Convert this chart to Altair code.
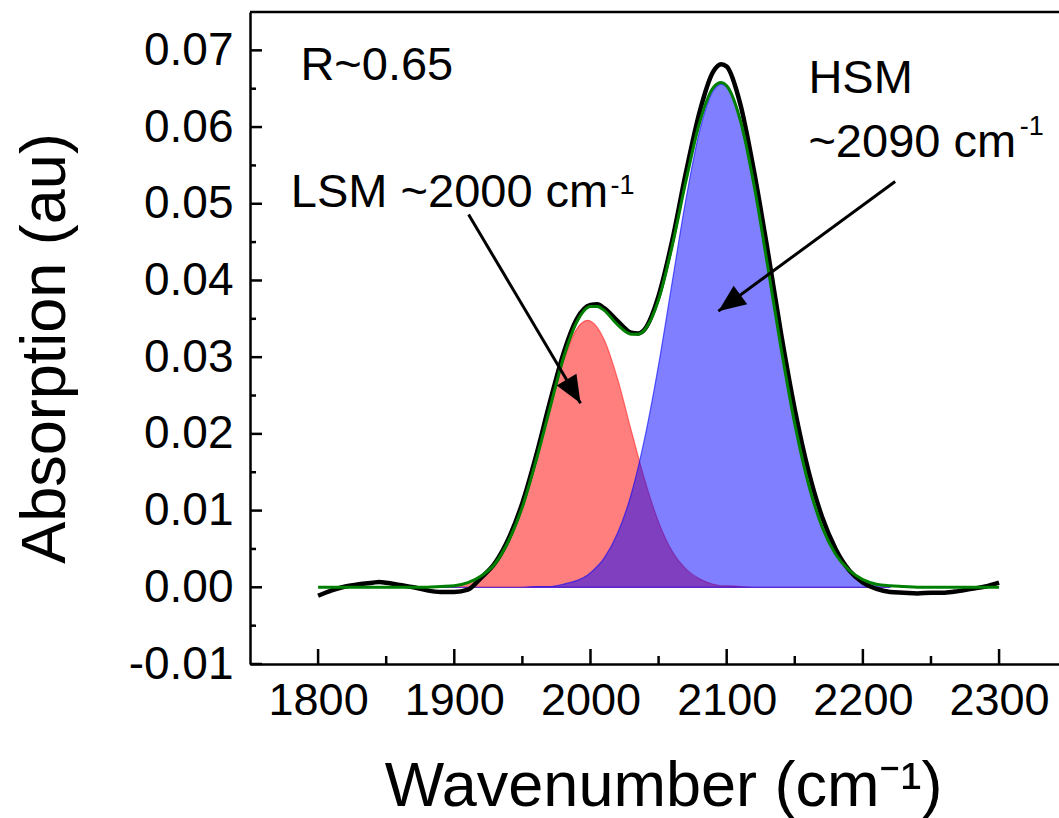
import altair as alt
import pandas as pd

# ---- data ----
# Gaussian components (LSM red, HSM blue)
comp_wn = [1890, 1900, 1910, 1920, 1930, 1940, 1950, 1960, 1970, 1980, 1990, 1998, 2000,
           2010, 2020, 2030, 2040, 2050, 2060, 2070, 2080, 2090, 2096, 2100, 2110, 2120,
           2130, 2140, 2150, 2160, 2170, 2180, 2190, 2200, 2210, 2220]
lsm_val = [0.0001, 0.0002, 0.0006, 0.0015, 0.0031, 0.0061, 0.0105, 0.0164, 0.0231, 0.0294,
           0.0337, 0.0348, 0.0347, 0.0323, 0.0271, 0.0204, 0.0139, 0.0085, 0.0047, 0.0024,
           0.0011, 0.0004, 0.0002, 0.0002, 0.0001, 0.0, 0.0, 0.0, 0.0, 0.0, 0.0, 0.0, 0.0,
           0.0, 0.0, 0.0]
hsm_val = [0.0, 0.0, 0.0, 0.0, 0.0, 0.0, 0.0, 0.0001, 0.0001, 0.0004, 0.0009, 0.0016, 0.0019,
           0.0038, 0.0071, 0.0122, 0.0196, 0.0290, 0.0398, 0.0505, 0.0594, 0.0647, 0.0656,
           0.0652, 0.0608, 0.0525, 0.0420, 0.0311, 0.0213, 0.0135, 0.0079, 0.0043, 0.0022,
           0.0010, 0.0004, 0.0002]

# cumulative fit (green)
fit_wn = [1800, 1810, 1820, 1830, 1840, 1850, 1860, 1870, 1880, 1890, 1900, 1910, 1920, 1930,
          1940, 1950, 1960, 1970, 1980, 1990, 2000, 2005, 2010, 2020, 2030, 2035, 2040, 2050,
          2060, 2070, 2080, 2090, 2096, 2100, 2110, 2120, 2130, 2140, 2150, 2160, 2170, 2180,
          2190, 2200, 2210, 2220, 2230, 2240, 2250, 2260, 2270, 2280, 2290, 2300]
fit_val = [0.0, 0.0, 0.0, 0.0, 0.0, 0.0, 0.0, 0.0, 0.0, 0.0001, 0.0002, 0.0006, 0.0015, 0.0031,
           0.0061, 0.0105, 0.0165, 0.0232, 0.0298, 0.0346, 0.0366, 0.0366, 0.0361, 0.0342,
           0.0330, 0.0330, 0.0336, 0.0375, 0.0445, 0.0529, 0.0605, 0.0651, 0.0658, 0.0654,
           0.0609, 0.0525, 0.0420, 0.0311, 0.0213, 0.0135, 0.0079, 0.0043, 0.0022, 0.0010,
           0.0004, 0.0002, 0.0001, 0.0, 0.0, 0.0, 0.0, 0.0, 0.0, 0.0]

# measured spectrum (black)
meas_wn = [1800, 1810, 1820, 1830, 1840, 1845, 1850, 1860, 1870, 1880, 1890, 1900, 1910, 1920,
           1930, 1940, 1950, 1960, 1970, 1980, 1990, 2000, 2005, 2010, 2020, 2030, 2035, 2040,
           2050, 2060, 2070, 2080, 2090, 2096, 2100, 2110, 2120, 2130, 2140, 2150, 2160, 2170,
           2180, 2190, 2200, 2210, 2220, 2230, 2240, 2250, 2260, 2270, 2280, 2290, 2300]
meas_val = [-0.0011, -0.0004, 0.0001, 0.0004, 0.0006, 0.0007, 0.0006, 0.0003, 0.0000, -0.0004,
            -0.0006, -0.0006, -0.0003, 0.0013, 0.0032, 0.0064, 0.0110, 0.0171, 0.0240, 0.0304,
            0.0350, 0.0368, 0.0369, 0.0364, 0.0347, 0.0332, 0.0331, 0.0337, 0.0380, 0.0452,
            0.0540, 0.0619, 0.0672, 0.0682, 0.0679, 0.0630, 0.0543, 0.0440, 0.0330, 0.0232,
            0.0152, 0.0092, 0.0050, 0.0022, 0.0006, -0.0002, -0.0006, -0.0007, -0.0008,
            -0.0007, -0.0007, -0.0005, -0.0002, 0.0001, 0.0006]

# axis ticks
x_major = [1800, 1900, 2000, 2100, 2200, 2300]
x_minor = [1850, 1950, 2050, 2150, 2250]
y_major = [-0.01, 0.0, 0.01, 0.02, 0.03, 0.04, 0.05, 0.06, 0.07]
y_minor = [-0.005, 0.005, 0.015, 0.025, 0.035, 0.045, 0.055, 0.065]

# annotations
main_text = ["R~0.65", "LSM ~2000 cm", "HSM", "~2090 cm"]
main_text_wn = [1787, 1780, 2160, 2160]
main_text_val = [0.0661, 0.0496, 0.0645, 0.0561]
sup_text = ["-1", "-1"]
sup_text_wn = [2014.7, 2315.2]
sup_text_val = [0.0513, 0.0590]

arrow_start_wn = [1910.5, 2223.7]
arrow_start_val = [0.0486, 0.0529]
arrow_tip_wn = [1992.7, 2093.9]
arrow_tip_val = [0.0240, 0.0360]
arrow_angle = [149.3, 233.7]

# ---- chart ----
W, H = 809, 652
X_DOMAIN = [1750, 2344]
Y_DOMAIN = [-0.01, 0.075]
FONT = "Liberation Sans"

xaxis = alt.Axis(values=x_major, format="d", ticks=False, tickSize=0, grid=False,
                 labelFont=FONT, labelFontSize=45, labelColor="black",
                 labelPadding=50, labelBaseline="alphabetic",
                 domainColor="black", domainWidth=2.5,
                 title="Wavenumber (cm⁻¹)", titleFont=FONT, titleFontSize=63,
                 titleFontWeight="normal", titleColor="black",
                 titleX=413, titleY=141, titleAlign="center", titleBaseline="alphabetic")
yaxis = alt.Axis(values=y_major, ticks=False, tickSize=0, grid=False,
                 labelExpr="datum.value < 0 ? '-' + format(-datum.value, '.2f') : format(datum.value, '.2f')",
                 labelFont=FONT, labelFontSize=46, labelColor="black",
                 labelPadding=17, labelBaseline="middle",
                 domainColor="black", domainWidth=2.5,
                 title="Absorption (au)", titleFont=FONT, titleFontSize=63,
                 titleFontWeight="normal", titleColor="black",
                 titleX=-186, titleY=336, titleAngle=270, titleAlign="center",
                 titleBaseline="alphabetic")

def xenc(field="wn"):
    return alt.X(f"{field}:Q", scale=alt.Scale(domain=X_DOMAIN, nice=False, zero=False), axis=xaxis)

def yenc(field="val"):
    return alt.Y(f"{field}:Q", scale=alt.Scale(domain=Y_DOMAIN, nice=False, zero=False), axis=yaxis)

comp_df = pd.DataFrame({"wn": comp_wn, "lsm": lsm_val, "hsm": hsm_val})
fit_df = pd.DataFrame({"wn": fit_wn, "val": fit_val})
meas_df = pd.DataFrame({"wn": meas_wn, "val": meas_val})

red = alt.Chart(comp_df).mark_area(
    interpolate="monotone", fill="#ff0000", fillOpacity=0.5,
    stroke="#ff0000", strokeOpacity=0.5, strokeWidth=1.2
).encode(x=xenc(), y=yenc("lsm"))

blue = alt.Chart(comp_df).mark_area(
    interpolate="monotone", fill="#0000ff", fillOpacity=0.5,
    stroke="#0000ff", strokeOpacity=0.6, strokeWidth=1.2
).encode(x=xenc(), y=yenc("hsm"))

black = alt.Chart(meas_df).mark_line(
    interpolate="monotone", color="black", strokeWidth=4.5
).encode(x=xenc(), y=yenc())

green = alt.Chart(fit_df).mark_line(
    interpolate="monotone", color="#008000", strokeWidth=3
).encode(x=xenc(), y=yenc())

xmaj_df = pd.DataFrame({"wn": x_major})
xmin_df = pd.DataFrame({"wn": x_minor})
ymaj_df = pd.DataFrame({"val": y_major})
ymin_df = pd.DataFrame({"val": y_minor})

xmaj_ticks = alt.Chart(xmaj_df).mark_rule(color="black", strokeWidth=2.5).encode(
    x=xenc(), y=alt.value(H), y2=alt.value(H - 15))
xmin_ticks = alt.Chart(xmin_df).mark_rule(color="black", strokeWidth=2.5).encode(
    x=xenc(), y=alt.value(H), y2=alt.value(H - 8))
ymaj_ticks = alt.Chart(ymaj_df).mark_rule(color="black", strokeWidth=2.5).encode(
    y=yenc(), x=alt.value(0), x2=alt.value(12))
ymin_ticks = alt.Chart(ymin_df).mark_rule(color="black", strokeWidth=2.5).encode(
    y=yenc(), x=alt.value(0), x2=alt.value(6))

top_border = alt.Chart(pd.DataFrame({"a": [0]})).mark_rule(color="black", strokeWidth=2.5).encode(
    x=alt.value(0), x2=alt.value(W), y=alt.value(0))

arrow_df = pd.DataFrame({"wn": arrow_start_wn, "val": arrow_start_val,
                         "wn2": arrow_tip_wn, "val2": arrow_tip_val,
                         "angle": arrow_angle})
arrow_lines = alt.Chart(arrow_df).mark_rule(color="black", strokeWidth=3).encode(
    x=xenc(), y=yenc(), x2="wn2:Q", y2="val2:Q")
arrow_heads = alt.Chart(arrow_df).mark_point(
    shape="M0,0L-0.42,1L0.42,1Z", filled=True, color="black", opacity=1, size=3000
).encode(x=xenc("wn2"), y=yenc("val2"), angle=alt.Angle("angle:Q", scale=None))

main_df = pd.DataFrame({"wn": main_text_wn, "val": main_text_val, "label": main_text})
sup_df = pd.DataFrame({"wn": sup_text_wn, "val": sup_text_val, "label": sup_text})
main_labels = alt.Chart(main_df).mark_text(
    align="left", baseline="alphabetic", font=FONT, fontSize=47, color="black"
).encode(x=xenc(), y=yenc(), text="label:N")
sup_labels = alt.Chart(sup_df).mark_text(
    align="left", baseline="alphabetic", font=FONT, fontSize=27, color="black"
).encode(x=xenc(), y=yenc(), text="label:N")

chart = alt.layer(
    red, blue, black, green,
    xmaj_ticks, xmin_ticks, ymaj_ticks, ymin_ticks, top_border,
    arrow_lines, arrow_heads, main_labels, sup_labels
).properties(
    width=W, height=H,
    autosize=alt.AutoSizeParams(type="none"),
    padding={"left": 250, "top": 12, "right": 0, "bottom": 154},
    background="white"
).configure_view(stroke=None)

chart.save("out.html", embed_options={"renderer": "svg", "actions": False})
